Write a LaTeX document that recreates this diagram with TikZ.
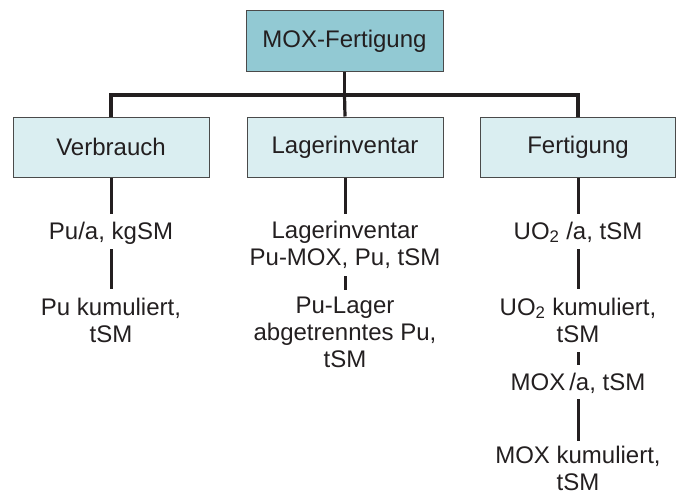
\documentclass[tikz,border=0pt]{standalone}
\usepackage{fontspec}
\setmainfont{Liberation Sans}
\usetikzlibrary{backgrounds}
\definecolor{topfill}{HTML}{92C9D3}
\definecolor{boxfill}{HTML}{DAEEF1}
\definecolor{boxline}{HTML}{4A4A4A}
\definecolor{ink}{HTML}{231F20}
\tikzset{
  box/.style={draw=boxline, line width=1pt, minimum width=196pt, minimum height=60pt, inner sep=0pt, font=\fontsize{24}{27}\selectfont, text=ink},
  lbl/.style={anchor=base, align=center, inner sep=0pt, font=\fontsize{24}{27}\selectfont, text=ink},
  bar/.style={draw=ink, line width=3.2pt},
  conn/.style={draw=ink, line width=3pt}
}
\begin{document}
\begin{tikzpicture}[x=1pt, y=-1pt]
\useasboundingbox (0,0) rectangle (676,495);
\node[box, fill=topfill, minimum width=197pt] (top) at (344.5,41) {MOX-Fertigung};
\node[box, fill=boxfill] (verb) at (111,147) {Verbrauch};
\node[box, fill=boxfill] (lager) at (345,147) {Lagerinventar};
\node[box, fill=boxfill, minimum width=195pt] (fert) at (578,147) {Fertigung};
\coordinate (hub) at (344.5,95);
\begin{pgfonlayer}{background}
\draw[bar] (top.south) -- (hub);
\draw[bar] (verb.north) |- (hub) -| (fert.north);
\draw[bar] (hub) -- (lager.north);
\end{pgfonlayer}
% labels
\node[lbl] (pua) at (111,239) {Pu/a, kgSM};
\node[lbl] (pukum) at (111,342) {Pu kumuliert,\\tSM};
\node[lbl] (laga) at (345,265) {Lagerinventar\\Pu-MOX, Pu, tSM};
\node[lbl] (lagb) at (345,367) {Pu-Lager\\abgetrenntes Pu,\\tSM};
\node[lbl] (uoa) at (578,239) {UO\textsubscript{2} /a, tSM};
\node[lbl] (uokum) at (578,342) {UO\textsubscript{2} kumuliert,\\tSM};
\node[lbl] (moxa) at (578,390) {MOX\,/a, tSM};
\node[lbl] (moxkum) at (578,490) {MOX kumuliert,\\tSM};
% connectors
\draw[conn] (verb.south) -- ++(0,36);
\draw[conn] (lager.south) -- ++(0,36);
\draw[conn] (fert.south) -- ++(0,36);
\draw[conn] ([yshift=-10pt]pua.base) -- ++(0,40);
\draw[conn] ([yshift=-11pt]laga.base) -- ++(0,14);
\draw[conn] ([yshift=-10pt]uoa.base) -- ++(0,40);
\draw[conn] ([yshift=-10pt]uokum.base) -- ++(0,13);
\draw[conn] ([yshift=-9pt]moxa.base) -- ++(0,42);
\end{tikzpicture}
\end{document}
